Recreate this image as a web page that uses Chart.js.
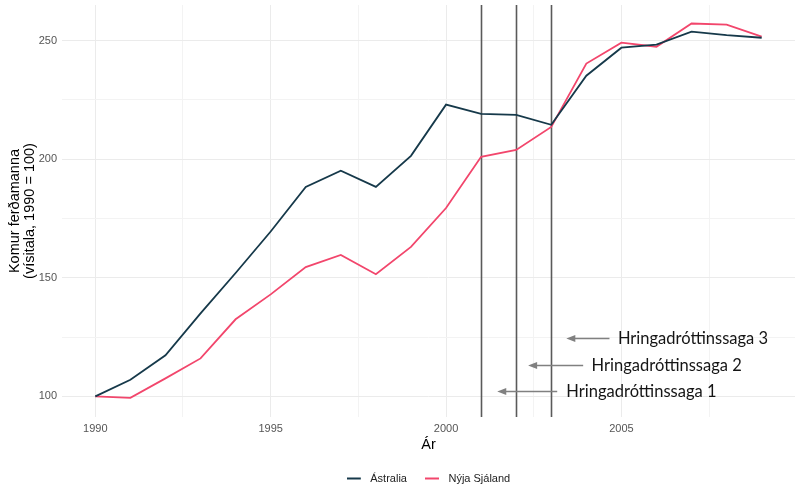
<!DOCTYPE html>
<html>
<head>
<meta charset="utf-8">
<script src="https://cdn.jsdelivr.net/npm/chart.js@4.4.1/dist/chart.umd.min.js"></script>
<style>
html,body{margin:0;padding:0;background:#fff;}
#wrap{width:800px;height:497px;}
</style>
</head>
<body>
<div id="wrap"><canvas id="c"></canvas></div>
<script>
const years = [1990,1991,1992,1993,1994,1995,1996,1997,1998,1999,2000,2001,2002,2003,2004,2005,2006,2007,2008,2009];
const australia = [100,107,117.3,135,152,169.5,188.3,195.1,188.3,201.4,223,219.1,218.7,214.5,235.2,247,248.3,253.8,252.3,251.2];
const newZealand = [100,99.4,107.6,116,132.5,143,154.5,159.6,151.5,163,179.4,201,203.9,213.6,240.3,249.1,247.4,257.2,256.7,251.7];
const xTicks = [1990,1992.5,1995,1997.5,2000,2002.5,2005,2007.5];
const yTicks = [100,125,150,175,200,225,250];
const releaseYears = [2001,2002,2003];
const releaseLabels = ['Hringadróttinssaga 1','Hringadróttinssaga 2','Hringadróttinssaga 3'];
const arrowTip = [2001.46,2002.34,2003.43];
const arrowTail = [2003.17,2003.91,2004.66];
const arrowY = [102.1,113.1,124.5];
const textX = [2003.43,2004.15,2004.9];
const seriesColors = ['#16394a','#f2466c'];

function legendLine(color){
  const c = document.createElement('canvas');
  c.width = 18; c.height = 4;
  const g = c.getContext('2d');
  g.fillStyle = color;
  g.fillRect(0,1,14,2);
  return c;
}
const legendImgs = seriesColors.map(legendLine);

const overlay = {
  id:'overlay',
  beforeDatasetsDraw(chart){
    const {ctx, chartArea, scales:{x}} = chart;
    ctx.save();
    ctx.strokeStyle = '#5a5a5a';
    ctx.lineWidth = 1.6;
    releaseYears.forEach(v=>{
      const px = Math.round(x.getPixelForValue(v))+0.5;
      ctx.beginPath();
      ctx.moveTo(px, chartArea.top);
      ctx.lineTo(px, chartArea.bottom);
      ctx.stroke();
    });
    ctx.restore();
  },
  afterDraw(chart){
    const {ctx, scales:{x,y}} = chart;
    ctx.save();
    releaseLabels.forEach((lab,i)=>{
      const py = Math.round(y.getPixelForValue(arrowY[i]))+0.5;
      const tip = x.getPixelForValue(arrowTip[i]);
      const tail = x.getPixelForValue(arrowTail[i]);
      ctx.strokeStyle = '#808080';
      ctx.fillStyle = '#808080';
      ctx.lineWidth = 1.3;
      ctx.beginPath();
      ctx.moveTo(tail, py);
      ctx.lineTo(tip+7, py);
      ctx.stroke();
      ctx.beginPath();
      ctx.moveTo(tip, py);
      ctx.lineTo(tip+9, py-3.5);
      ctx.lineTo(tip+9, py+3.5);
      ctx.closePath();
      ctx.fill();
      ctx.fillStyle = '#151515';
      ctx.font = '16.5px Lato';
      ctx.textBaseline = 'middle';
      ctx.textAlign = 'left';
      ctx.fillText(lab, x.getPixelForValue(textX[i]), py);
    });
    ctx.restore();
  }
};

const gridColor = ctx => (ctx.tick && ctx.tick.value % 50 === 0) ? '#ebebeb' : '#f3f3f3';
const gridColorX = ctx => (ctx.tick && ctx.tick.value % 5 === 0) ? '#ebebeb' : '#f3f3f3';

new Chart(document.getElementById('c'), {
  type:'line',
  data:{
    datasets:[
      {label:'Ástralia', data: years.map((yr,i)=>({x:yr,y:australia[i]})), borderColor:seriesColors[0], backgroundColor:seriesColors[0], borderWidth:1.8, pointRadius:0, tension:0},
      {label:'Nýja Sjáland', data: years.map((yr,i)=>({x:yr,y:newZealand[i]})), borderColor:seriesColors[1], backgroundColor:seriesColors[1], borderWidth:1.8, pointRadius:0, tension:0}
    ]
  },
  options:{
    responsive:true, maintainAspectRatio:false, animation:false,
    layout:{padding:{top:5,right:5,left:0,bottom:3}},
    plugins:{
      legend:{
        position:'bottom',
        fullSize:false,
        labels:{
          usePointStyle:true, pointStyleWidth:18,
          generateLabels(chart){
            return Chart.defaults.plugins.legend.labels.generateLabels(chart).map((l,i)=>Object.assign(l,{pointStyle:legendImgs[i]}));
          },
          font:{family:'Liberation Sans', size:11}, color:'#222', padding:18, boxHeight:11
        }
      },
      tooltip:{enabled:false}
    },
    scales:{
      x:{
        type:'linear', min:1989.05, max:2009.95,
        afterBuildTicks(s){ s.ticks = xTicks.map(v=>({value:v})); },
        ticks:{callback:v=> v%5===0 ? String(v) : '', font:{family:'Liberation Sans', size:11}, color:'#555', padding:5, maxRotation:0, autoSkip:false},
        grid:{color:gridColorX, lineWidth:1, drawTicks:false},
        border:{display:false},
        title:{display:true, text:'Ár', font:{family:'Liberation Sans', size:14.5}, color:'#000', padding:{top:2,bottom:1}},
        afterFit(s){ s.height = 38; s.paddingLeft = 0; s.paddingRight = 0; }
      },
      y:{
        type:'linear', min:91.3, max:265,
        afterBuildTicks(s){ s.ticks = yTicks.map(v=>({value:v})); },
        ticks:{callback:v=> v%50===0 ? String(v) : '', font:{family:'Liberation Sans', size:11}, color:'#555', padding:5, autoSkip:false},
        grid:{color:gridColor, lineWidth:1, drawTicks:false},
        border:{display:false},
        title:{display:true, text:['Komur ferðamanna','(vísitala, 1990 = 100)'], font:{family:'Liberation Sans', size:14.5, lineHeight:1.0}, color:'#000', padding:{top:8,bottom:4}},
        afterFit(s){ s.width = 62; s.paddingTop = 0; s.paddingBottom = 0; }
      }
    }
  },
  plugins:[overlay]
});
</script>
</body>
</html>
